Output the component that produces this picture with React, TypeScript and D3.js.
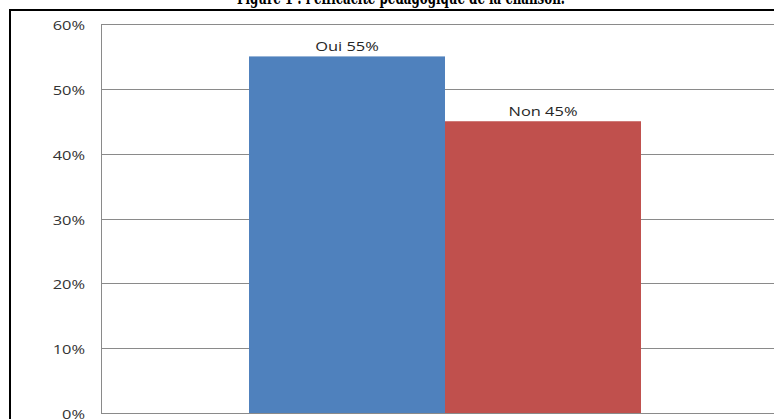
import React from "react";
import * as d3 from "d3";

// Survey answers
const categories = ["Efficacité"];
const seriesNames = ["Oui", "Non"];
const seriesValues = [55, 45];
const seriesColors = ["#4F81BD", "#C0504D"];
const yTicks = [0, 10, 20, 30, 40, 50, 60];
const title = "Figure 1 : l'efficacité pédagogique de la chanson.";

const W = 774;
const H = 419;
const plot = { left: 101, right: 789, top: 24, bottom: 413 };
const stretch = 1.37;

export default function App() {
  const y = d3.scaleLinear().domain([0, 60]).range([plot.bottom, plot.top]);
  const x0 = d3
    .scaleBand<string>()
    .domain(categories)
    .range([plot.left, plot.right])
    .paddingInner(0)
    .paddingOuter(0.3776);
  const x1 = d3
    .scaleBand<string>()
    .domain(seriesNames)
    .range([0, x0.bandwidth()]);

  return (
    <svg
      width={W}
      height={H}
      style={{ position: "absolute", left: 0, top: 0, display: "block", background: "#fff" }}
    >
      <rect x={0} y={0} width={W} height={H} fill="#fff" />
      {/* title, partly above the frame */}
      <text
        x={401}
        y={4}
        textAnchor="middle"
        fontFamily="'DejaVu Serif', 'Liberation Serif', serif"
        fontWeight="bold"
        fontSize={18}
        textLength={328}
        lengthAdjust="spacingAndGlyphs"
        fill="#000"
      >
        {title}
      </text>
      {/* frame */}
      <rect x={10} y={10} width={W + 20} height={H + 20} fill="none" stroke="#000" strokeWidth={2} />

      {/* gridlines */}
      {yTicks.map((t) => (
        <line
          key={"g" + t}
          x1={plot.left}
          x2={plot.right}
          y1={Math.round(y(t)) + 0.5}
          y2={Math.round(y(t)) + 0.5}
          stroke="#8a8a8a"
          strokeWidth={1}
        />
      ))}
      <line
        x1={plot.left + 0.5}
        x2={plot.left + 0.5}
        y1={plot.top}
        y2={plot.bottom}
        stroke="#8a8a8a"
        strokeWidth={1}
      />

      {/* tick labels */}
      {yTicks.map((t) => (
        <text
          key={"t" + t}
          transform={`translate(85,${y(t) + 6}) scale(${stretch},1)`}
          textAnchor="end"
          fontFamily="'Open Sans', sans-serif"
          fontSize={12}
          fill="#333"
        >
          {t + "%"}
        </text>
      ))}

      {/* bars */}
      {categories.map((c) =>
        seriesNames.map((s, i) => {
          const bx = (x0(c) ?? 0) + (x1(s) ?? 0);
          const v = seriesValues[i];
          return (
            <g key={c + s}>
              <rect
                x={bx}
                y={y(v)}
                width={x1.bandwidth()}
                height={y(0) - y(v)}
                fill={seriesColors[i]}
              />
              <text
                transform={`translate(${bx + x1.bandwidth() / 2},${y(v) - 5}) scale(${stretch},1)`}
                textAnchor="middle"
                fontFamily="'Open Sans', sans-serif"
                fontSize={12}
                fill="#262626"
              >
                {`${s} ${v}%`}
              </text>
            </g>
          );
        })
      )}
    </svg>
  );
}
